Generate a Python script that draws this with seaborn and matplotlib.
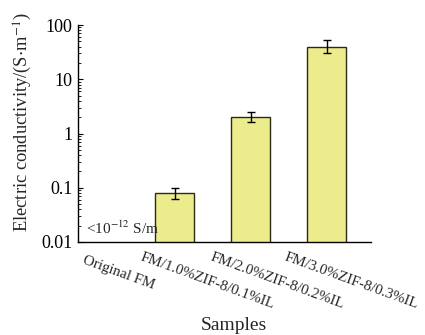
import matplotlib
matplotlib.use("Agg")
import matplotlib.pyplot as plt
import matplotlib.transforms as mtransforms
from matplotlib.ticker import LogLocator, NullFormatter
import seaborn as sns
import pandas as pd
import numpy as np

samples = ["Original FM", "FM/1.0%ZIF-8/0.1%IL", "FM/2.0%ZIF-8/0.2%IL", "FM/3.0%ZIF-8/0.3%IL"]
conductivity = [1e-12, 0.081, 2.0, 40.0]
err_low = [0.0, 0.019, 0.38, 10.0]
err_high = [0.0, 0.019, 0.48, 12.0]

sns.set_theme(style="ticks")
plt.rcParams["font.family"] = ["Liberation Serif", "DejaVu Serif"]
plt.rcParams["mathtext.fontset"] = "stix"

df = pd.DataFrame({"Samples": samples, "Conductivity": conductivity})

fig = plt.figure(figsize=(4.25, 3.35), dpi=100)
ax = fig.add_axes([78/425, 1-242/335, (371-78)/425, (242-25)/335])

sns.barplot(data=df, x="Samples", y="Conductivity", ax=ax, color="#EDEC8C",
            edgecolor="#2a2a18", linewidth=1.0, width=0.51, saturation=1, errorbar=None)
ax.set_yscale("log")
ax.errorbar(np.arange(len(samples))[1:], conductivity[1:],
            yerr=[err_low[1:], err_high[1:]], fmt="none", ecolor="black",
            elinewidth=1.0, capsize=3, capthick=1.0)
ax.set_ylim(0.01, 100)
ax.set_xlim(-0.27, 3.585)
ax.set_yticks([0.01, 0.1, 1, 10, 100])
ax.set_yticklabels(["0.01", "0.1", "1", "10", "100"])
ax.yaxis.set_minor_locator(LogLocator(base=10, subs=np.arange(2, 10)))
ax.yaxis.set_minor_formatter(NullFormatter())

sns.despine(ax=ax)
for s in ["left", "bottom"]:
    ax.spines[s].set_linewidth(1.0)
    ax.spines[s].set_color("black")

ax.tick_params(axis="y", which="major", direction="in", length=3.5, width=0.8,
               labelsize=13, pad=4, colors="black")
ax.tick_params(axis="y", which="minor", direction="in", length=2, width=0.6, colors="black")
ax.tick_params(axis="x", which="both", length=0, pad=0, labelsize=10.8)

dx = [-13.5, -32, -38, -39.5]
dy = [12, 9, 9, 9]
for lab, ox, oy in zip(ax.get_xticklabels(), dx, dy):
    lab.set_rotation(-20)
    lab.set_rotation_mode("anchor")
    lab.set_ha("left")
    lab.set_va("top")
    lab.set_transform(lab.get_transform() +
                      mtransforms.ScaledTranslation(ox/100, -oy/100, fig.dpi_scale_trans))

ax.set_xlabel("Samples", fontsize=14)
ax.xaxis.set_label_coords((234-78)/293, (242-317)/217)
ax.set_ylabel("Electric conductivity/(S$\\cdot$m$^{-1}$)", fontsize=13.3)
ax.yaxis.set_label_coords((12-78)/293, (242-122)/217)
ax.yaxis.label.set_va("top")

ax.text((86-78)/293, (242-237)/217, "<10$^{-12}$ S/m", transform=ax.transAxes,
        fontsize=11, ha="left", va="bottom")

fig.savefig("out.png", dpi=100)
